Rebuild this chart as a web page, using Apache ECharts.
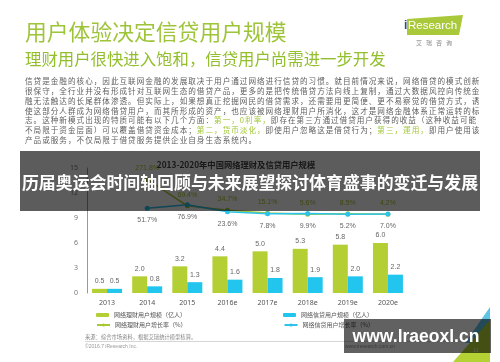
<!DOCTYPE html>
<html><head><meta charset="utf-8">
<script src="https://cdn.jsdelivr.net/npm/echarts@6/dist/echarts.min.js"></script>
<style>html,body{margin:0;padding:0;background:#fff}#c{width:500px;height:362px}</style>
</head><body><div id="c"></div>
<script>
const categories = ['2013','2014','2015','2016e','2017e','2018e','2019e','2020e'];
const wealthUsers = [0.5,2.0,3.2,4.4,5.0,5.3,5.8,6.0];
const loanUsers = [0.5,0.8,1.3,1.6,1.8,1.9,2.0,2.2];
const wealthGrowth = [null,271.8,69.4,34.7,15.1,5.6,8.5,4.2];
const loanGrowth = [null,51.7,76.9,23.6,7.8,9.9,5.2,7.0];
const yMin = 0, yMax = 15, yStep = 3;
const seriesNames = ['网络理财用户规模（亿人）','网络信贷用户规模（亿人）','网络理财用户增长率（%）','网络信贷用户增长率（%）'];
const paragraph = [
  [['n','信贷是金融的核心，因此互联网金融的发展取决于用户通过网络进行信贷的习惯。就目前情况来说，网络借贷的模式创新']],
  [['n','很保守，全行业并没有形成针对互联网生态的借贷产品，更多的是把传统借贷方法向线上复制，通过大数据风控向传统金']],
  [['n','融无法触达的长尾群体渗透。但实际上，如果想真正挖掘网民的借贷需求，还需要用更简便、更不易察觉的借贷方式，诱']],
  [['n','使这部分人群成为网络借贷用户，而其所形成的资产，也应该被网络理财用户所消化，这才是网络金融体系正常运转的标']],
  [['n','志。这种新模式出现的特质可能有以下几个方面：'],['g','第一，0利率，'],['n','即存在第三方通过借贷用户获得的收益（这种收益可能']],
  [['n','不局限于资金层面）可以覆盖借贷资金成本；'],['g','第二，货币淡化，'],['n','即使用户忽略这是借贷行为；'],['g','第三，運用，'],['n','即用户使用该']],
  [['n','产品或服务，不仅局限于借贷服务提供企业自身生态系统内。']]
];

const GREEN = '#b3cf33', BLUE = '#22c5ee', TG = '#9ec43a';
const CJK = '"Noto Sans CJK SC","Noto Sans",sans-serif';
const chart = echarts.init(document.getElementById('c'));
const ctx = document.createElement('canvas').getContext('2d');
const PF = 7.6, SP = 1.0;
ctx.font = PF + 'px ' + CJK;

const graphics = [];
graphics.push({type:'text', z:10, style:{x:25,y:32,text:'用户体验决定信贷用户规模',fontSize:21.8,fontFamily:CJK,fill:TG,textVerticalAlign:'middle'}});
graphics.push({type:'text', z:10, style:{x:25,y:59,text:'理财用户很快进入饱和，信贷用户尚需进一步开发',fontSize:16.4,fontFamily:CJK,fill:'#93bf2c',textVerticalAlign:'middle'}});
// logo
graphics.push({type:'polygon', z:10, shape:{points:[[407,19],[463,15],[459,35],[407,35]]}, style:{fill:'#a9c93a'}});
graphics.push({type:'text', z:11, style:{x:404,y:26,text:'i',fontSize:12,fontWeight:'bold',fontFamily:'"Liberation Sans",sans-serif',fill:'#1f4e8c',textVerticalAlign:'middle'}});
graphics.push({type:'text', z:11, style:{x:408,y:26,text:'Research',fontSize:11.5,fontFamily:'"Liberation Sans",sans-serif',fill:'#fff',textVerticalAlign:'middle'}});
graphics.push({type:'text', z:10, style:{x:434,y:43,text:'艾   瑞   咨   询',fontSize:6,fontFamily:CJK,fill:'#888',textAlign:'center',textVerticalAlign:'middle'}});
// paragraph, placed glyph by glyph for the wide letter spacing of the slide
paragraph.forEach((line,i)=>{
  let x = 25;
  line.forEach(seg=>{
    for (const ch of seg[1]) {
      graphics.push({type:'text', z:10, silent:true, style:{x:x,y:81.5+i*9.75,text:ch,fontSize:PF,fontFamily:CJK,
        fill: seg[0]==='g' ? '#a3c83a' : '#5e5e5e', textVerticalAlign:'middle'}});
      x += ctx.measureText(ch).width + SP;
    }
  });
});
// chart title (under banner)
graphics.push({type:'text', z:5, style:{x:236,y:165,text:'2013-2020年中国网络理财及信贷用户规模',fontSize:8.3,fontWeight:'bold',fontFamily:CJK,fill:'#444',textAlign:'center',textVerticalAlign:'middle'}});
// banner
graphics.push({type:'rect', z:100, shape:{x:20,y:151,width:460,height:60}, style:{fill:'rgba(0,0,0,0.64)'}});
graphics.push({type:'text', z:101, style:{x:250,y:183,text:'历届奥运会时间轴回顾与未来展望探讨体育盛事的变迁与发展',fontSize:16.9,fontWeight:'bold',fontFamily:CJK,fill:'#fff',textAlign:'center',textVerticalAlign:'middle'}});
// source / footer
graphics.push({type:'text', z:10, style:{x:85,y:337,text:'来源：综合市场资料，根据艾瑞统计模型核算。',fontSize:5.3,fontFamily:CJK,fill:'#888',textVerticalAlign:'middle'}});
graphics.push({type:'line', z:10, shape:{x1:85,y1:341.5,x2:478,y2:341.5}, style:{stroke:'#ccc',lineWidth:0.8}});
graphics.push({type:'text', z:10, style:{x:85,y:347,text:'©2016.7 iResearch Inc.',fontSize:5,fontFamily:'"Liberation Sans",sans-serif',fill:'#999',textVerticalAlign:'middle'}});
graphics.push({type:'text', z:10, style:{x:345,y:347,text:'www.iresearch.com.cn',fontSize:5,fontFamily:'"Liberation Sans",sans-serif',fill:'#999',textVerticalAlign:'middle'}});
// corner triangles
graphics.push({type:'polygon', z:10, shape:{points:[[490,307],[490,343],[465,343]]}, style:{fill:'#5fc3e4'}});
graphics.push({type:'polygon', z:11, shape:{points:[[490,320],[490,362],[453,362]]}, style:{fill:'#b4d234'}});
graphics.push({type:'text', z:12, style:{x:476,y:350,text:'11',fontSize:6,fontFamily:'"Liberation Sans",sans-serif',fill:'#e8eec8',textAlign:'center',textVerticalAlign:'middle'}});
// watermark
graphics.push({type:'rect', z:100, shape:{x:344,y:319,width:147,height:34}, style:{fill:'rgba(0,0,0,0.62)'}});
graphics.push({type:'text', z:101, style:{x:416,y:337,text:'www.lraeoxl.cn',fontSize:17.5,fontWeight:'bold',fontFamily:'"Liberation Sans",sans-serif',fill:'#fff',textAlign:'center',textVerticalAlign:'middle'}});

const pct = p => (p.value==null?'':p.value.toFixed(1)+'%');
const option = {
  animation:false,
  backgroundColor:'#fff',
  grid:{left:87,right:92,top:168,bottom:69},
  legend:[
    {data:[seriesNames[0],seriesNames[1]], left:96, top:312, padding:0, itemWidth:13, itemHeight:4, itemGap:97,
     textStyle:{fontSize:6,color:'#555',fontFamily:CJK}},
    {data:[seriesNames[2],seriesNames[3]], left:96, top:322, padding:0, itemWidth:13, itemHeight:4, itemGap:97,
     textStyle:{fontSize:6,color:'#555',fontFamily:CJK}}
  ],
  xAxis:{type:'category', data:categories, axisLine:{show:false}, axisTick:{show:false},
    axisLabel:{fontSize:7,color:'#555',margin:6,fontFamily:'"Noto Sans",sans-serif'}},
  yAxis:[
    {type:'value', min:yMin, max:yMax, interval:yStep, splitLine:{show:false},
     axisLine:{show:true,lineStyle:{color:'#999',width:1}}, axisTick:{show:false},
     axisLabel:{fontSize:7,color:'#777',margin:9,fontFamily:'"Noto Sans",sans-serif'}},
    {type:'value', min:-600, max:360, show:false}
  ],
  graphic:{elements:graphics},
  series:[
    {name:seriesNames[0], type:'bar', data:wealthUsers, barWidth:15, barGap:'0%', itemStyle:{color:GREEN},
     label:{show:true,position:'top',distance:4,fontSize:7,color:'#666',formatter:p=>p.value.toFixed(1)}},
    {name:seriesNames[1], type:'bar', data:loanUsers, barWidth:15, barGap:'0%', itemStyle:{color:BLUE},
     label:{show:true,position:'top',distance:4,fontSize:7,color:'#666',formatter:p=>p.value.toFixed(1)}},
    {name:seriesNames[2], type:'line', yAxisIndex:1, data:wealthGrowth, symbol:'circle', symbolSize:5,
     lineStyle:{color:'#a8c832',width:1.5}, itemStyle:{color:'#a8c832'},
     label:{show:true,position:'top',distance:5,fontSize:7,color:'#a8c832',formatter:pct}},
    {name:seriesNames[3], type:'line', yAxisIndex:1, data:loanGrowth, symbol:'circle', symbolSize:5,
     lineStyle:{color:'#2cc3eb',width:1.5}, itemStyle:{color:'#2cc3eb'},
     label:{show:true,position:'bottom',distance:6,fontSize:7,color:'#666',formatter:pct}}
  ]
};
chart.setOption(option);
</script></body></html>
